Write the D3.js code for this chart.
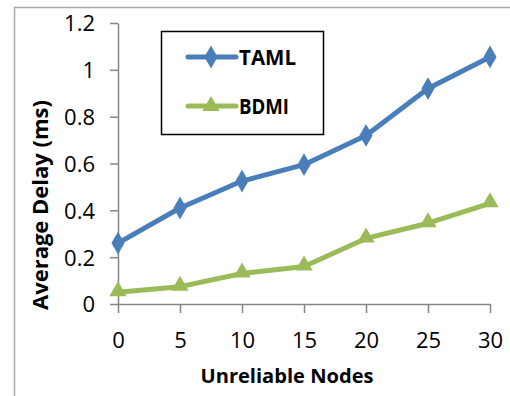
<!DOCTYPE html>
<html>
<head>
<meta charset="utf-8">
<script src="https://cdn.jsdelivr.net/npm/d3@7"></script>
<style>
  body { margin:0; background:#fff; }
  text { font-family: 'Open Sans', 'Liberation Sans', sans-serif; fill:#000; }
</style>
</head>
<body>
<svg id="viewer"></svg>
<script>
var nodeCounts = [0, 5, 10, 15, 20, 25, 30];
var tamlDelay = [0.26, 0.41, 0.525, 0.595, 0.72, 0.92, 1.055];
var bdmiDelay = [0.05, 0.074, 0.13, 0.16, 0.28, 0.345, 0.43];
var yTicks = [0, 0.2, 0.4, 0.6, 0.8, 1, 1.2];
var seriesNames = ['TAML', 'BDMI'];

var viewer = d3.select('#viewer')
  .attr('width', 510)
  .attr('height', 396);

// frame of the pasted figure (left and top edges only)
viewer.append('path')
  .attr('d', 'M14.5,396V7.5H510')
  .attr('fill', 'none')
  .attr('stroke', '#a6a6a6')
  .attr('stroke-width', 1.5);

var x = d3.scaleLinear().domain([0, 30]).range([118, 490]);
var y = d3.scaleLinear().domain([0, 1.2]).range([304, 23]);

var axisColor = '#868686';

var xAxis = viewer.append('g')
  .attr('transform', 'translate(0,304)')
  .call(d3.axisBottom(x).tickValues(nodeCounts).tickSize(9).tickSizeOuter(0).tickPadding(19));
var yAxis = viewer.append('g')
  .attr('transform', 'translate(118,0)')
  .call(d3.axisLeft(y).tickValues(yTicks).tickSize(8).tickSizeOuter(0).tickPadding(15)
    .tickFormat(function(d){return String(d);}));

[xAxis, yAxis].forEach(function(ax){
  ax.select('.domain').attr('stroke', axisColor).attr('stroke-width', 1.5);
  ax.selectAll('.tick line').attr('stroke', axisColor).attr('stroke-width', 1.5);
  ax.selectAll('.tick text')
    .attr('fill', '#000')
    .attr('font-size', 22)
    .style('font-size', '22px')
    .style('font-family', "'Open Sans', sans-serif");
});
xAxis.selectAll('.tick text').attr('dy', '0.71em');
yAxis.selectAll('.tick text').attr('dy', '0.36em');

viewer.append('text')
  .attr('x', 287)
  .attr('y', 383)
  .attr('text-anchor', 'middle')
  .style('font-size', '20px')
  .style('font-weight', 'bold')
  .attr('textLength', 173)
  .attr('lengthAdjust', 'spacingAndGlyphs')
  .text('Unreliable Nodes');

viewer.append('text')
  .attr('transform', 'translate(48,205) rotate(-90)')
  .attr('text-anchor', 'middle')
  .style('font-size', '21px')
  .style('font-weight', 'bold')
  .attr('textLength', 210)
  .attr('lengthAdjust', 'spacingAndGlyphs')
  .text('Average Delay (ms)');

var series = [
  { name: seriesNames[0], values: tamlDelay, color: '#4a7ebb', symbol: d3.symbolDiamond, size: 150 },
  { name: seriesNames[1], values: bdmiDelay, color: '#9bbb59', symbol: d3.symbolTriangle, size: 130 }
];

var line = d3.line()
  .x(function(d, i){return x(nodeCounts[i]);})
  .y(function(d){return y(d);});

var seriesViews = viewer.selectAll('.series')
  .data(series)
  .enter().append('g')
    .attr('class', 'series');

seriesViews.append('path')
  .attr('d', function(d){return line(d.values);})
  .attr('fill', 'none')
  .attr('stroke', function(d){return d.color;})
  .attr('stroke-width', 5)
  .attr('stroke-linejoin', 'round');

seriesViews.each(function(s){
  d3.select(this).selectAll('.marker')
    .data(s.values)
    .enter().append('path')
      .attr('class', 'marker')
      .attr('d', d3.symbol().type(s.symbol).size(s.size))
      .attr('transform', function(d, i){
        var dy = s.symbol === d3.symbolTriangle ? -1 : 0;
        return 'translate(' + x(nodeCounts[i]) + ',' + (y(d) + dy) + ')';
      })
      .attr('fill', s.color);
});

// legend
var legend = viewer.append('g');
legend.append('rect')
  .attr('x', 161.5)
  .attr('y', 31.5)
  .attr('width', 162)
  .attr('height', 103)
  .attr('fill', '#fff')
  .attr('stroke', '#000')
  .attr('stroke-width', 1.5);

var legendRows = legend.selectAll('.row')
  .data(series)
  .enter().append('g')
    .attr('class', 'row')
    .attr('transform', function(d, i){return 'translate(0,' + (57 + i * 49) + ')';});

legendRows.append('line')
  .attr('x1', 188)
  .attr('x2', 236)
  .attr('stroke', function(d){return d.color;})
  .attr('stroke-width', 5)
  .attr('stroke-linecap', 'round');

legendRows.append('path')
  .attr('d', function(d){return d3.symbol().type(d.symbol).size(d.size)();})
  .attr('transform', 'translate(211,0)')
  .attr('fill', function(d){return d.color;});

legendRows.append('text')
  .attr('x', 239)
  .attr('dy', '0.36em')
  .style('font-size', '21px')
  .style('font-weight', 'bold')
  .attr('textLength', function(d){return d.name === 'TAML' ? 57 : 50;})
  .attr('lengthAdjust', 'spacingAndGlyphs')
  .text(function(d){return d.name;});
</script>
</body>
</html>
